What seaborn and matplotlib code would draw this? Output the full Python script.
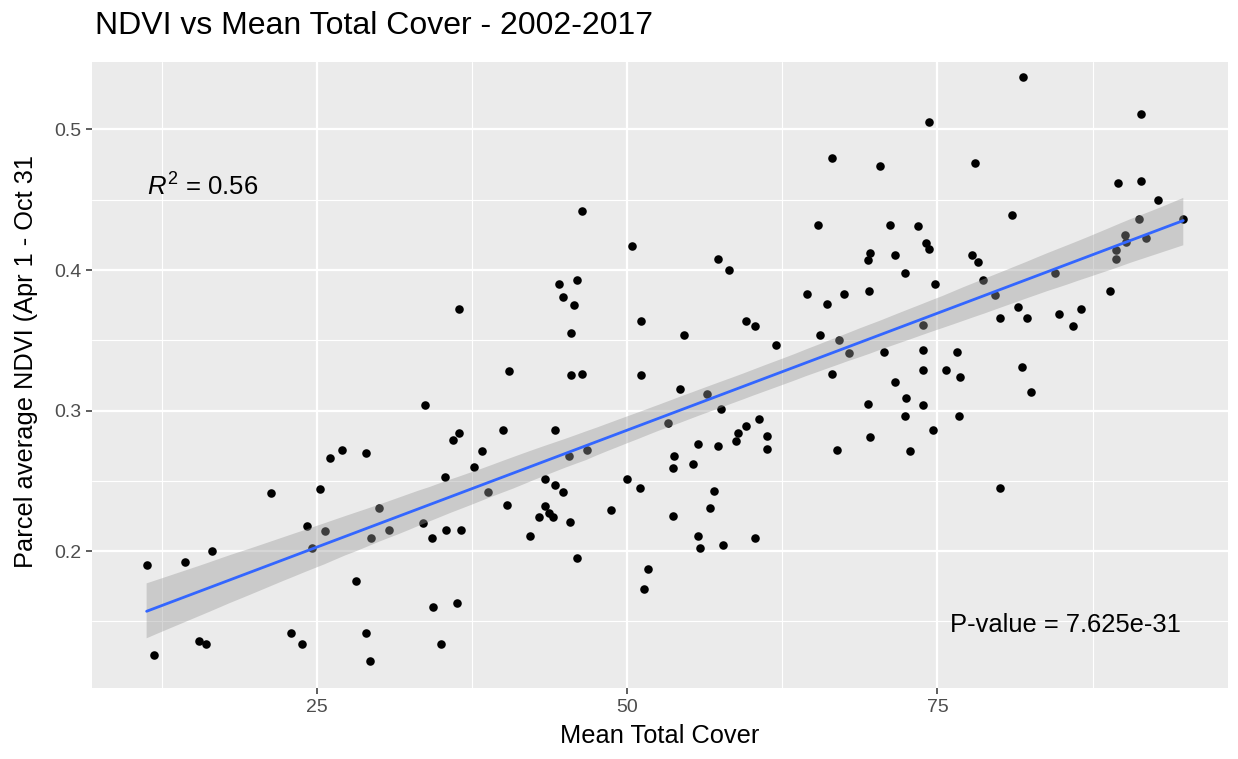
import numpy as np
import pandas as pd
import matplotlib
matplotlib.use("Agg")
import matplotlib.pyplot as plt
import seaborn as sns
from matplotlib.ticker import FixedLocator, FuncFormatter
from matplotlib.collections import PolyCollection

# Parcel observations: mean total cover (%) and growing-season NDVI
mean_total_cover = [
    46.4, 50.4, 44.5, 46.0, 44.8, 45.7, 36.5, 51.1, 45.5, 40.5, 45.5, 46.4, 51.1,
    74.3, 66.5, 70.4, 65.4, 71.2, 73.4, 74.1, 74.3, 69.6, 69.4, 71.6, 57.3, 58.2,
    72.4, 74.8, 64.5, 67.5, 69.5, 66.1, 59.6, 60.3, 54.6, 65.5, 73.8, 67.1, 62.0,
    67.9, 70.7, 73.8, 66.5, 73.8, 75.7,
    81.9, 91.4, 78.0, 89.5, 91.4, 92.8, 81.0, 91.2, 94.8, 90.1, 90.2, 91.8, 77.8,
    78.3, 89.4, 89.4, 78.7, 84.5, 79.6, 88.9, 81.5, 80.0, 82.2, 84.8, 86.6, 85.9,
    76.6, 81.8, 76.8,
    11.3, 14.4, 16.6, 11.9, 15.5, 16.1, 21.3, 22.9, 23.8, 24.2, 24.6, 25.7, 25.3,
    26.1, 27.0, 29.0, 30.0, 29.4, 28.2, 29.0, 29.3,
    33.7, 36.5, 36.0, 40.0, 44.2, 38.3, 37.7, 35.3, 30.8, 33.6, 34.3, 35.4, 36.6,
    38.8, 40.3, 45.3, 46.8, 43.4, 44.2, 44.8, 43.4, 43.7, 42.9, 44.0, 45.4, 42.2,
    46.0, 48.7, 50.0, 51.0, 51.7, 51.4, 34.4, 36.3, 35.0,
    54.3, 56.4, 57.6, 53.3, 60.6, 59.6, 58.9, 58.8, 61.3, 61.3, 55.7, 57.3, 53.8,
    53.7, 55.3, 57.0, 56.7, 53.7, 55.7, 55.9, 57.7, 60.3, 71.6, 69.4, 72.5, 73.8,
    72.4, 74.6, 69.6, 66.9, 72.8,
    82.5, 76.7, 80.0,
]
ndvi = [
    0.442, 0.417, 0.390, 0.393, 0.381, 0.375, 0.372, 0.364, 0.355, 0.328, 0.325, 0.326, 0.325,
    0.505, 0.480, 0.474, 0.432, 0.432, 0.431, 0.419, 0.415, 0.412, 0.407, 0.411, 0.408, 0.400,
    0.398, 0.390, 0.383, 0.383, 0.385, 0.376, 0.364, 0.360, 0.354, 0.354, 0.361, 0.350, 0.347,
    0.341, 0.342, 0.343, 0.326, 0.329, 0.329,
    0.537, 0.511, 0.476, 0.462, 0.463, 0.450, 0.439, 0.436, 0.436, 0.425, 0.420, 0.423, 0.411,
    0.406, 0.414, 0.408, 0.393, 0.398, 0.382, 0.385, 0.374, 0.366, 0.366, 0.369, 0.372, 0.360,
    0.342, 0.331, 0.324,
    0.190, 0.192, 0.200, 0.126, 0.136, 0.134, 0.241, 0.142, 0.134, 0.218, 0.202, 0.214, 0.244,
    0.266, 0.272, 0.270, 0.231, 0.209, 0.179, 0.142, 0.122,
    0.304, 0.284, 0.279, 0.286, 0.286, 0.271, 0.260, 0.253, 0.215, 0.220, 0.209, 0.215, 0.215,
    0.242, 0.233, 0.268, 0.272, 0.251, 0.247, 0.242, 0.232, 0.227, 0.224, 0.224, 0.221, 0.211,
    0.195, 0.229, 0.251, 0.245, 0.187, 0.173, 0.160, 0.163, 0.134,
    0.315, 0.312, 0.301, 0.291, 0.294, 0.289, 0.284, 0.278, 0.282, 0.273, 0.276, 0.275, 0.268,
    0.259, 0.262, 0.243, 0.231, 0.225, 0.211, 0.202, 0.204, 0.209, 0.320, 0.305, 0.309, 0.304,
    0.296, 0.286, 0.281, 0.272, 0.271,
    0.313, 0.296, 0.245,
]

x_ticks = [25, 50, 75]
y_ticks = [0.2, 0.3, 0.4, 0.5]
title = "NDVI vs Mean Total Cover - 2002-2017"
x_label = "Mean Total Cover"
y_label = "Parcel average NDVI (Apr 1 - Oct 31"
r2_text = r"$R^2$ = 0.56"
p_text = "P-value = 7.625e-31"

df = pd.DataFrame({"cover": mean_total_cover, "ndvi": ndvi})

sns.set_theme(style="darkgrid")
plt.rcParams["font.family"] = ["Liberation Sans", "DejaVu Sans"]
plt.rcParams["mathtext.fontset"] = "custom"
plt.rcParams["mathtext.rm"] = "Liberation Sans"
plt.rcParams["mathtext.it"] = "Liberation Sans:italic"

W, H = 1238, 759
fig = plt.figure(figsize=(W / 100, H / 100), dpi=100)
fig.patch.set_facecolor("white")
ax = fig.add_axes([92 / W, 1 - 688 / H, (1228 - 92) / W, (688 - 62) / H])
ax.set_facecolor("#EBEBEB")

sns.regplot(
    data=df, x="cover", y="ndvi", ax=ax, ci=95, n_boot=1000, seed=3,
    color="#999999",
    scatter_kws=dict(color="black", s=38, linewidths=0, alpha=1, zorder=2),
    line_kws=dict(color="#3366FF", lw=2.0, zorder=4),
)
# grey confidence ribbon drawn over the points
for coll in ax.collections:
    if isinstance(coll, PolyCollection):
        coll.set_facecolor("#999999")
        coll.set_edgecolor("none")
        coll.set_alpha(0.4)
        coll.set_zorder(3)

ax.set_xlim(6.9, 98.4)
ax.set_ylim(0.1026, 0.548)

ax.xaxis.set_major_locator(FixedLocator(x_ticks))
ax.xaxis.set_minor_locator(FixedLocator([12.5, 37.5, 62.5, 87.5]))
ax.yaxis.set_major_locator(FixedLocator(y_ticks))
ax.yaxis.set_minor_locator(FixedLocator([0.15, 0.25, 0.35, 0.45]))
ax.xaxis.set_major_formatter(FuncFormatter(lambda v, p: f"{v:g}"))
ax.yaxis.set_major_formatter(FuncFormatter(lambda v, p: f"{v:.1f}"))

ax.set_axisbelow(True)
ax.grid(which="major", color="white", lw=1.6)
ax.grid(which="minor", color="white", lw=0.8)
for s in ax.spines.values():
    s.set_visible(False)

ax.tick_params(which="major", length=4.3, width=1.1, color="#333333",
               labelcolor="#4D4D4D", labelsize=14, pad=3.5,
               bottom=True, left=True)
ax.tick_params(which="minor", length=0)

ax.set_xlabel(x_label, fontsize=18.3, color="black", labelpad=6)
ax.set_ylabel(y_label, fontsize=18.3, color="black")
ax.yaxis.set_label_coords(-0.0475, 0.522)

fig.text(95 / W, 1 - 34 / H, title, fontsize=23, color="black",
         ha="left", va="baseline")

ax.text(11.34, 0.453, r2_text, fontsize=18.5, color="black",
        ha="left", va="baseline", zorder=5)
ax.text(76.0, 0.1427, p_text, fontsize=18.4, color="black",
        ha="left", va="baseline", zorder=5)

fig.savefig("out.png", dpi=100, facecolor="white")
